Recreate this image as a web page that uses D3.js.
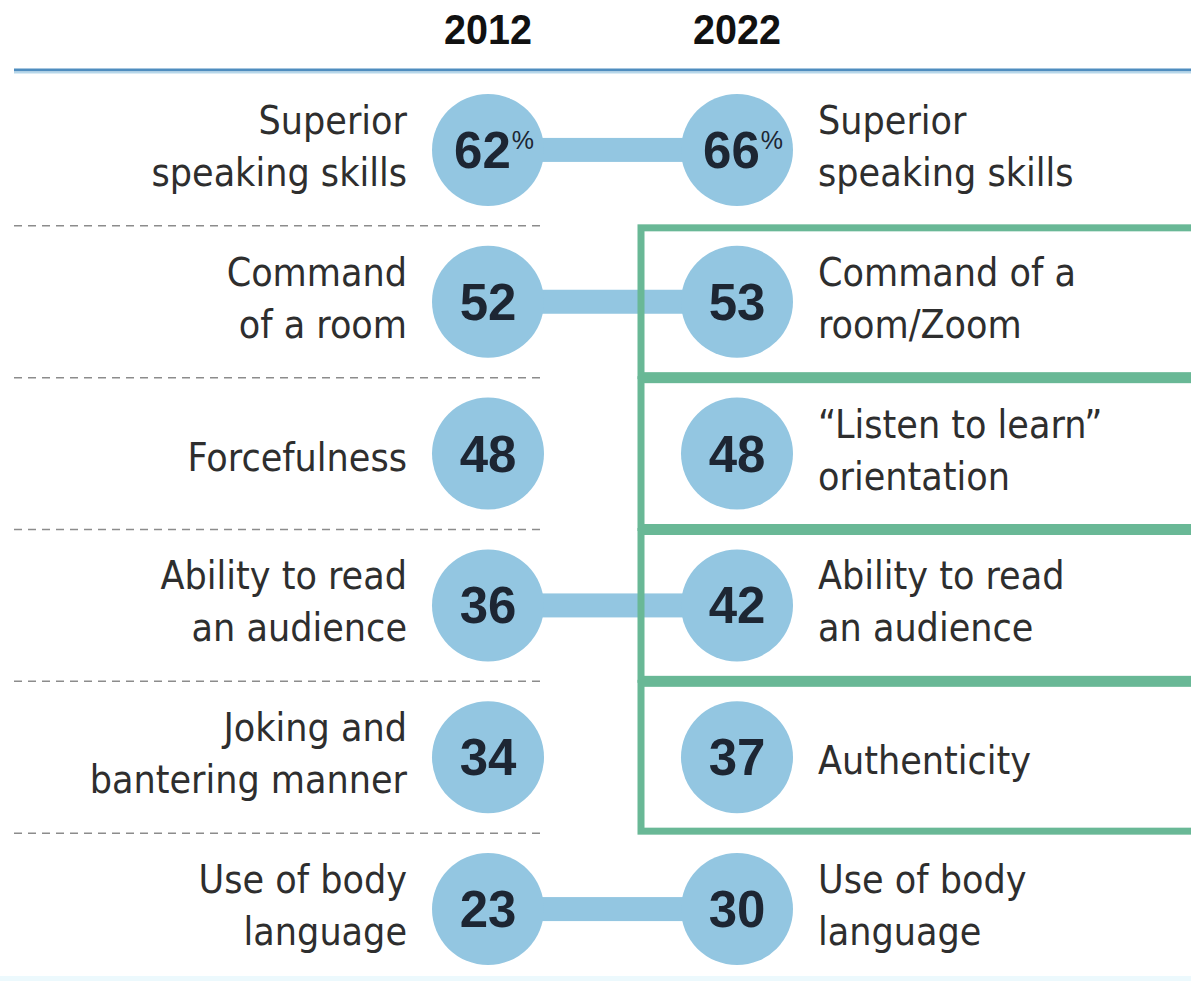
<!DOCTYPE html>
<html>
<head>
<meta charset="utf-8">
<script src="https://cdn.jsdelivr.net/npm/d3@7"></script>
<style>
  body { margin: 0; background: #fff; }
  svg { display: block; }
</style>
</head>
<body>
<div id="vis-container"></div>
<script>
// data
const years = ["2012", "2022"];
const values2012 = [62, 52, 48, 36, 34, 23];
const values2022 = [66, 53, 48, 42, 37, 30];
const labels2012 = [
    ["Superior", "speaking skills"],
    ["Command", "of a room"],
    ["Forcefulness"],
    ["Ability to read", "an audience"],
    ["Joking and", "bantering manner"],
    ["Use of body", "language"]
];
const labels2022 = [
    ["Superior", "speaking skills"],
    ["Command of a", "room/Zoom"],
    ["\u201cListen to learn\u201d", "orientation"],
    ["Ability to read", "an audience"],
    ["Authenticity"],
    ["Use of body", "language"]
];
// same trait in both years -> joined by a bar
const sameTrait = [true, true, false, true, false, true];
// rows boxed in green
const boxed = [false, true, true, true, true, false];

let width = 1191;
let height = 981;

let svg = d3.select("#vis-container").append("svg").attr("width", width).attr("height", height)

const rows = d3.range(values2012.length);
const yScale = d3.scaleBand().domain(rows).range([74, 985])
const xScale = d3.scalePoint().domain(years).range([488, 737])
const r = 56;
const step = yScale.step();
const cy = i => yScale(i) + step / 2;

const circleColor = "#93c6e1";
const labelFont = "'DejaVu Sans Condensed', 'DejaVu Sans', sans-serif";

// faint band at the bottom
svg.append("rect").attr("x", 0).attr("y", 976).attr("width", width).attr("height", 5).attr("fill", "#ecf9fd")

// year headers
svg.append("g").selectAll("text")
    .data(years)
    .enter().append("text")
    .attr("x", d => xScale(d) - 44)
    .attr("y", 44)
    .attr("textLength", 88)
    .attr("lengthAdjust", "spacingAndGlyphs")
    .style("font-family", "'Liberation Sans', Arial, sans-serif")
    .style("font-weight", "bold")
    .style("font-size", "43px")
    .attr("fill", "#111")
    .text(d => d);

// blue rule under the headers
svg.append("line").attr("x1", 14).attr("x2", width).attr("y1", 70).attr("y2", 70)
    .attr("stroke", "#4f8dbf").attr("stroke-width", 3)
svg.append("line").attr("x1", 14).attr("x2", width).attr("y1", 72.5).attr("y2", 72.5)
    .attr("stroke", "#b7d7ea").attr("stroke-width", 2)

// dashed separators on the left half
svg.append("g").selectAll("line")
    .data(rows.slice(0, rows.length - 1))
    .enter().append("line")
    .attr("x1", 14).attr("x2", 541)
    .attr("y1", d => yScale(d) + step).attr("y2", d => yScale(d) + step)
    .attr("stroke", "#8c8c8c")
    .attr("stroke-width", 1.5)
    .attr("stroke-dasharray", "8,6");

// connecting bars
svg.append("g").selectAll("rect")
    .data(rows.filter(i => sameTrait[i]))
    .enter().append("rect")
    .attr("x", xScale("2012"))
    .attr("y", d => cy(d) - 12)
    .attr("width", xScale("2022") - xScale("2012"))
    .attr("height", 24)
    .attr("fill", circleColor);

// green boxes
svg.append("g").selectAll("rect")
    .data(rows.filter(i => boxed[i]))
    .enter().append("rect")
    .attr("x", 641)
    .attr("y", d => yScale(d) + 2)
    .attr("width", 600)
    .attr("height", step - 4)
    .attr("fill", "none")
    .attr("stroke", "#69b896")
    .attr("stroke-width", 7);

// circles + values
const series = [
    { year: "2012", values: values2012 },
    { year: "2022", values: values2022 }
];

series.forEach(s => {
    const g = svg.append("g");
    g.selectAll("circle")
        .data(s.values)
        .enter().append("circle")
        .attr("cx", xScale(s.year))
        .attr("cy", (d, i) => cy(i))
        .attr("r", r)
        .attr("fill", circleColor);

    const t = g.selectAll("text")
        .data(s.values)
        .enter().append("text")
        .attr("x", (d, i) => xScale(s.year) + (i === 0 ? 6 : 0))
        .attr("y", (d, i) => cy(i) + 18)
        .attr("text-anchor", "middle")
        .style("font-family", "'Liberation Sans', Arial, sans-serif")
        .style("font-weight", "bold")
        .style("font-size", "51px")
        .attr("fill", "#1d2633");
    t.append("tspan").text(d => d);
    t.filter((d, i) => i === 0).append("tspan")
        .attr("dx", 1)
        .attr("dy", -19)
        .style("font-size", "25px")
        .style("font-weight", "normal")
        .text("%");
});

// labels
function drawLabels(labels, x, anchor) {
    svg.append("g").selectAll("text")
        .data(labels)
        .enter().append("text")
        .attr("text-anchor", anchor)
        .style("font-family", labelFont)
        .style("font-size", "39px")
        .attr("fill", "#2e2e2e")
        .each(function (lines, i) {
            const el = d3.select(this);
            const base = lines.length === 1 ? [cy(i) + 17] : [cy(i) - 16, cy(i) + 36];
            lines.forEach((line, k) => {
                el.append("tspan").attr("x", x).attr("y", base[k]).text(line);
            });
        });
}
drawLabels(labels2012, 407, "end");
drawLabels(labels2022, 818, "start");
</script>
</body>
</html>
